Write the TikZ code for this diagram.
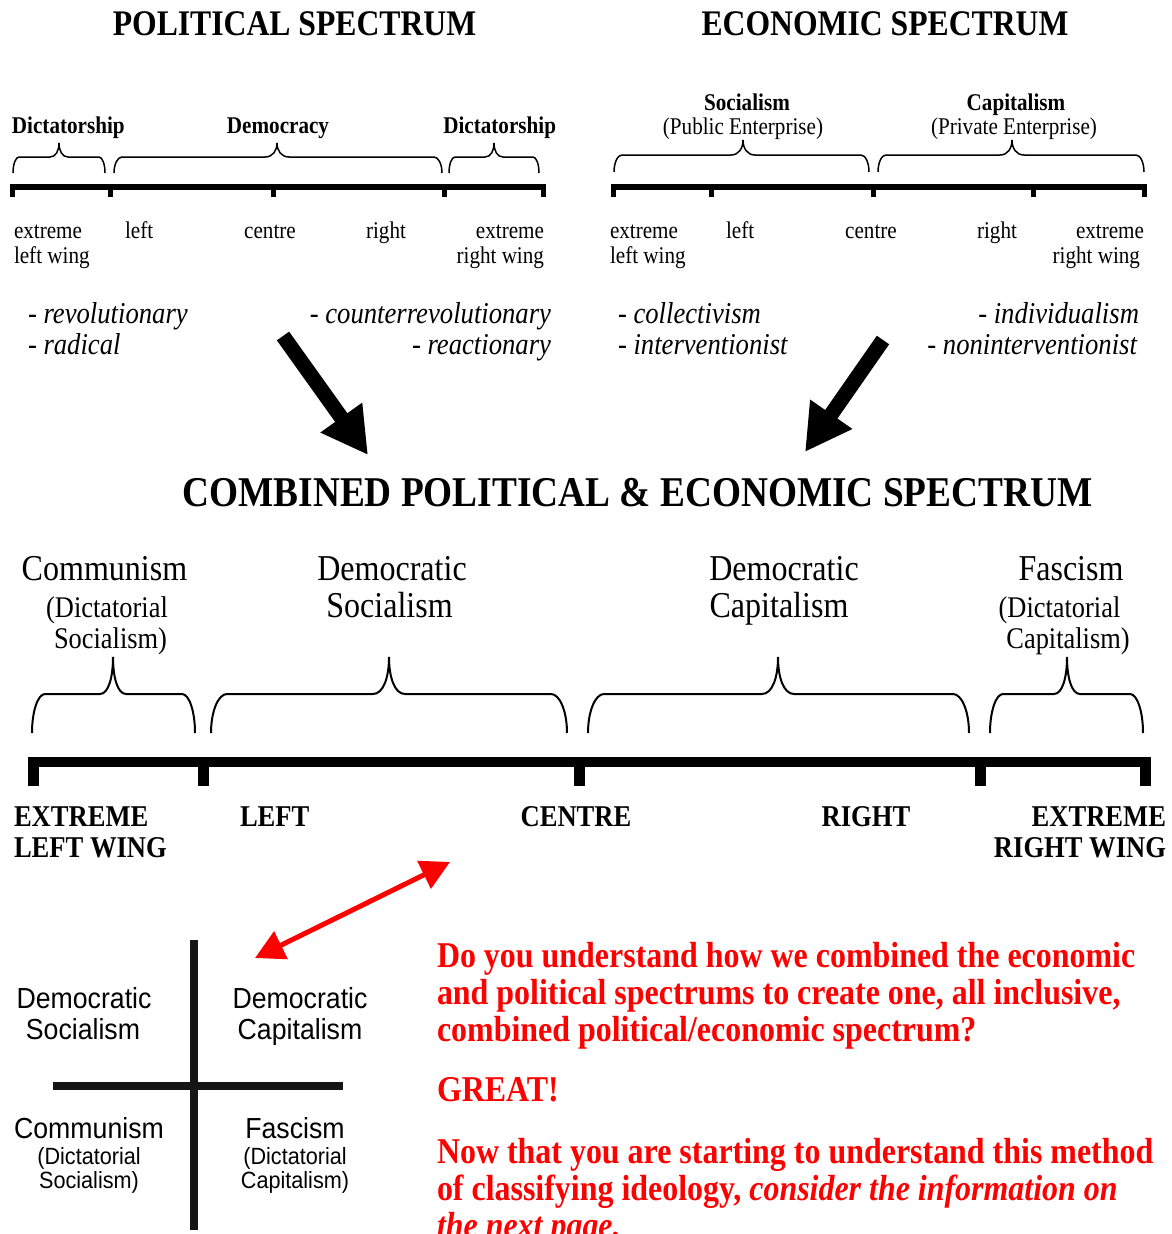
\documentclass[tikz,border=0pt]{standalone}
\usepackage{fontspec}
\setmainfont{Liberation Serif}[FakeStretch=0.88]
\setsansfont{Liberation Sans}[FakeStretch=0.92]
\usetikzlibrary{arrows.meta}
\tikzset{
 every node/.style={inner sep=0pt, outer sep=0pt},
 ttl/.style={font=\fontsize{36}{40}\selectfont\bfseries},
 toplab/.style={font=\fontsize{24}{27}\selectfont\bfseries},
 topsub/.style={font=\fontsize{24}{27}\selectfont},
 topit/.style={font=\fontsize{30.3}{33}\selectfont\itshape},
 bigttl/.style={font=\fontsize{42.4}{46}\selectfont\bfseries},
 ideo/.style={font=\fontsize{36.4}{40}\selectfont},
 ideosub/.style={font=\fontsize{30}{34}\selectfont},
 biglab/.style={font=\fontsize{30.2}{34}\selectfont\bfseries},
 quad/.style={font=\sffamily\fontsize{29}{32}\selectfont},
 quadsub/.style={font=\sffamily\fontsize{23.5}{26}\selectfont},
 redtxt/.style={font=\fontsize{36.3}{37}\selectfont\bfseries, text=red},
 smallbrace/.style={line width=1.5pt},
 bigbrace/.style={line width=2pt},
 blackarrow/.style={line width=15pt, -{Triangle[length=46pt,width=48pt]}},
 redarrow/.style={red, line width=5pt, {Triangle[length=29pt,width=30pt]}-{Triangle[length=29pt,width=30pt]}},
 quadline/.style={line width=8pt, draw={rgb,255:red,21;green,21;blue,21}},
}
% #1 x0, #2 x1, #3 xtip, #4 ybottom, #5 yflat, #6 ytip, #7 end radius, #8 tip radius, #9 style
\newcommand\cbrace[9]{%
  \draw[#9] (#1,#4) .. controls (#1,{#4-0.552*(#4-#5)}) and ({#1+0.448*#7},#5) .. ({#1+#7},#5)
   -- ({#3-#8},#5) .. controls ({#3-0.35*#8},#5) and (#3,{#5-0.45*(#5-#6)}) .. (#3,#6)
   .. controls (#3,{#5-0.45*(#5-#6)}) and ({#3+0.35*#8},#5) .. ({#3+#8},#5)
   -- ({#2-#7},#5) .. controls ({#2-0.448*#7},#5) and (#2,{#4-0.552*(#4-#5)}) .. (#2,#4);
}
\begin{document}
\begin{tikzpicture}[x=1pt,y=-1pt]
\useasboundingbox (0,0) rectangle (1172,1234);
\fill[white] (0,0) rectangle (1172,1234);
\clip (0,0) rectangle (1172,1234);

% titles
\node[ttl, anchor=base] (tpol) at (294.5,35) {POLITICAL SPECTRUM};
\node[ttl, anchor=base] (teco) at (885,35) {ECONOMIC SPECTRUM};

% ---------- political spectrum ----------
\node[toplab, anchor=base west] (pd1) at (12,133) {Dictatorship};
\node[toplab, anchor=base] (pdem) at (278,133) {Democracy};
\node[toplab, anchor=base east] (pd2) at (556,133) {Dictatorship};
\cbrace{13}{105}{59}{173}{157}{143}{6}{9}{smallbrace}
\cbrace{114}{442}{277}{173}{157}{143}{8}{12}{smallbrace}
\cbrace{449}{539}{494}{173}{157}{143}{6}{9}{smallbrace}
\fill (10,184) rectangle (546,190);
\foreach \t in {12.5,110,273,444,543.5} \fill ({\t-2.5},184) rectangle ({\t+2.5},197);
\node[topsub, anchor=base west] (pel1) at (14,238) {extreme};
\node[topsub, anchor=base west] (pel2) at (14,263) {left wing};
\node[topsub, anchor=base west] (pl) at (125,238) {left};
\node[topsub, anchor=base] (pc) at (270,238) {centre};
\node[topsub, anchor=base] (pr) at (386,238) {right};
\node[topsub, anchor=base east] (per1) at (544,238) {extreme};
\node[topsub, anchor=base east] (per2) at (544,263) {right wing};
\node[topit, anchor=base west] (pi1) at (28,323) {- revolutionary};
\node[topit, anchor=base west] (pi2) at (28,354) {- radical};
\node[topit, anchor=base east] (pi3) at (551,323) {- counterrevolutionary};
\node[topit, anchor=base east] (pi4) at (551,354) {- reactionary};

% ---------- economic spectrum ----------
\node[toplab, anchor=base] (esoc) at (747,110) {Socialism};
\node[topsub, anchor=base] (epub) at (743,134) {(Public Enterprise)};
\node[toplab, anchor=base] (ecap) at (1016,110) {Capitalism};
\node[topsub, anchor=base] (epriv) at (1014,134) {(Private Enterprise)};
\cbrace{614}{869}{743}{172}{155}{140}{8}{12}{smallbrace}
\cbrace{878}{1144}{1012}{172}{155}{140}{8}{12}{smallbrace}
\fill (611,184) rectangle (1147,190);
\foreach \t in {613.5,711,873,1033,1144.5} \fill ({\t-2.5},184) rectangle ({\t+2.5},197);
\node[topsub, anchor=base west] (eel1) at (610,238) {extreme};
\node[topsub, anchor=base west] (eel2) at (610,263) {left wing};
\node[topsub, anchor=base west] (el) at (726,238) {left};
\node[topsub, anchor=base] (ec) at (871,238) {centre};
\node[topsub, anchor=base] (er) at (997,238) {right};
\node[topsub, anchor=base east] (eer1) at (1144,238) {extreme};
\node[topsub, anchor=base east] (eer2) at (1140,263) {right wing};
\node[topit, anchor=base west] (ei1) at (618,323) {- collectivism};
\node[topit, anchor=base west] (ei2) at (618,354) {- interventionist};
\node[topit, anchor=base east] (ei3) at (1139,323) {- individualism};
\node[topit, anchor=base east] (ei4) at (1137,354) {- noninterventionist};

% black arrows
\coordinate (a1s) at (283,336);
\coordinate (a1e) at (368,455);
\coordinate (a2s) at (883,340);
\coordinate (a2e) at (805,452);
\draw[blackarrow] (a1s) -- (a1e);
\draw[blackarrow] (a2s) -- (a2e);

% ---------- combined ----------
\node[bigttl, anchor=base] (comb) at (637.5,506) {COMBINED POLITICAL \& ECONOMIC SPECTRUM};

\node[ideo, anchor=base] (c1a) at (104.5,580) {Communism};
\node[ideosub, anchor=base] (c1b) at (107,617) {(Dictatorial};
\node[ideosub, anchor=base] (c1c) at (110.5,648) {Socialism)};
\node[ideo, anchor=base] (c2a) at (392,580) {Democratic};
\node[ideo, anchor=base] (c2b) at (389.5,617) {Socialism};
\node[ideo, anchor=base] (c3a) at (784,580) {Democratic};
\node[ideo, anchor=base] (c3b) at (779,617) {Capitalism};
\node[ideo, anchor=base] (c4a) at (1071,580) {Fascism};
\node[ideosub, anchor=base] (c4b) at (1059.5,617) {(Dictatorial};
\node[ideosub, anchor=base] (c4c) at (1068,648) {Capitalism)};

\cbrace{32}{195}{113}{733}{694}{657}{13}{13}{bigbrace}
\cbrace{211}{567}{389}{733}{694}{657}{16}{16}{bigbrace}
\cbrace{588}{969}{778}{733}{694}{657}{16}{16}{bigbrace}
\cbrace{990}{1143}{1067}{733}{694}{657}{13}{13}{bigbrace}

\fill (28,757) rectangle (1151,767);
\foreach \t in {33.5,203.5,579.5,980.5,1145.5} \fill ({\t-5.5},757) rectangle ({\t+5.5},786);

\node[biglab, anchor=base west] (bel1) at (14,826) {EXTREME};
\node[biglab, anchor=base west] (bel2) at (14,857) {LEFT WING};
\node[biglab, anchor=base west] (bl) at (240,826) {LEFT};
\node[biglab, anchor=base] (bc) at (576,826) {CENTRE};
\node[biglab, anchor=base] (br) at (866,826) {RIGHT};
\node[biglab, anchor=base east] (ber1) at (1166,826) {EXTREME};
\node[biglab, anchor=base east] (ber2) at (1166,857) {RIGHT WING};

% red arrow
\coordinate (r1) at (450,862);
\coordinate (r2) at (255,958);
\draw[redarrow] (r1) -- (r2);

% quadrant
\coordinate (qv1) at (194,940);
\coordinate (qv2) at (194,1230);
\coordinate (qh1) at (53,1086);
\coordinate (qh2) at (343,1086);
\draw[quadline] (qv1) -- (qv2);
\draw[quadline] (qh1) -- (qh2);
\node[quad, anchor=base] (q1a) at (84,1008) {Democratic};
\node[quad, anchor=base] (q1b) at (83,1039) {Socialism};
\node[quad, anchor=base] (q2a) at (300,1008) {Democratic};
\node[quad, anchor=base] (q2b) at (300,1039) {Capitalism};
\node[quad, anchor=base] (q3a) at (89,1138) {Communism};
\node[quadsub, anchor=base] (q3b) at (89,1164) {(Dictatorial};
\node[quadsub, anchor=base] (q3c) at (89,1188) {Socialism)};
\node[quad, anchor=base] (q4a) at (295,1138) {Fascism};
\node[quadsub, anchor=base] (q4b) at (295,1164) {(Dictatorial};
\node[quadsub, anchor=base] (q4c) at (295,1188) {Capitalism)};

% red text
\node[redtxt, anchor=base west] (t1) at (437,967.5) {Do you understand how we combined the economic};
\node[redtxt, anchor=base west] (t2) at (437,1004.5) {and political spectrums to create one, all inclusive,};
\node[redtxt, anchor=base west] (t3) at (437,1041.5) {combined political/economic spectrum?};
\node[redtxt, anchor=base west] (t4) at (437,1101.5) {GREAT!};
\node[redtxt, anchor=base west] (t5) at (437,1163.5) {Now that you are starting to understand this method};
\node[redtxt, anchor=base west] (t6) at (437,1200.5) {of classifying ideology, \textit{consider the information on}};
\node[redtxt, anchor=base west] (t7) at (437,1237.5) {\textit{the next page.}};
\end{tikzpicture}
\end{document}
